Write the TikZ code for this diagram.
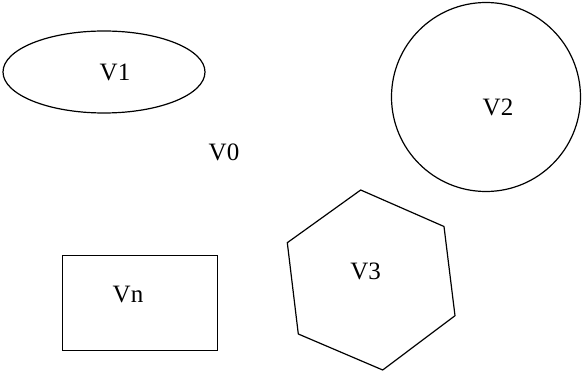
\documentclass[tikz,border=0pt]{standalone}
\usepackage{fontspec}
\setmainfont{Liberation Serif}
\tikzset{
  shapeline/.style={draw=black, line width=1.2pt},
  lbl/.style={font=\fontsize{25}{28}\selectfont, inner sep=0pt}
}
\begin{document}
\begin{tikzpicture}[x=1pt,y=-1pt]
\useasboundingbox (0,0) rectangle (582,374);
% V1 ellipse
\draw[shapeline] (104,72) ellipse [x radius=101, y radius=41];
\node[lbl] (v1) at (115,72) {V1};
% V2 circle
\draw[shapeline] (486,97) circle [radius=94.5];
\node[lbl] (v2) at (498,107) {V2};
% V0
\node[lbl] (v0) at (224,152) {V0};
% V3 hexagon
\draw[shapeline, line join=round] (360.7,190) -- (444,226.5) -- (455,315.7) -- (382.7,370) -- (298.3,334) -- (287.3,242.7) -- cycle;
\node[lbl] (v3) at (365.7,271) {V3};
% Vn rectangle
\draw[shapeline] (62.7,255.7) rectangle (217.3,350.7);
\node[lbl] (vn) at (128,295) {Vn};
\end{tikzpicture}
\end{document}
